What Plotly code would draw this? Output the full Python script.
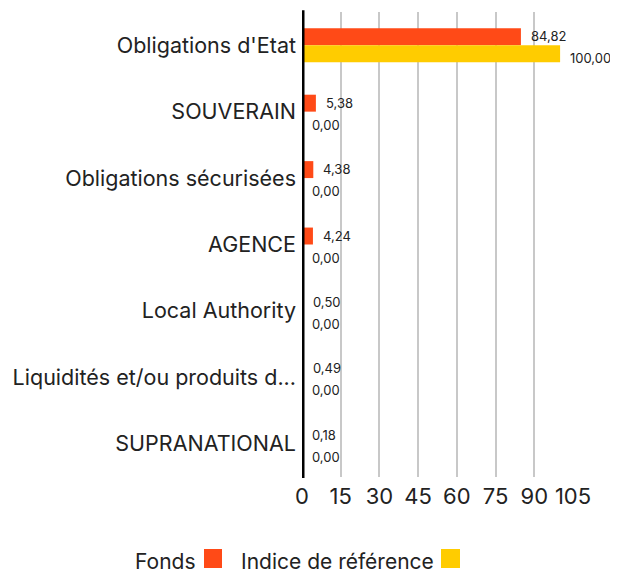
import plotly.graph_objects as go

categories = ["Obligations d'Etat", "SOUVERAIN", "Obligations sécurisées", "AGENCE",
              "Local Authority", "Liquidités et/ou produits d...", "SUPRANATIONAL"]
fonds = [84.82, 5.38, 4.38, 4.24, 0.50, 0.49, 0.18]
indice = [100.00, 0.00, 0.00, 0.00, 0.00, 0.00, 0.00]
x_ticks = [0, 15, 30, 45, 60, 75, 90, 105]
series_names = ["Fonds", "Indice de référence"]
colors = ["#FF4A17", "#FFCC00"]

FONT = "Inter, Roboto, sans-serif"
TXT = "#222222"

def fmt(v):
    return f"{v:.2f}".replace(".", ",")

fig = go.Figure()
fig.add_trace(go.Bar(y=categories, x=fonds, orientation="h", name=series_names[0],
                     marker=dict(color=colors[0], line=dict(width=0)), showlegend=False))
fig.add_trace(go.Bar(y=categories, x=indice, orientation="h", name=series_names[1],
                     marker=dict(color=colors[1], line=dict(width=0)), showlegend=False))

annotations = []
for c, v in zip(categories, fonds):
    annotations.append(dict(x=v, y=c, xref="x", yref="y", text=fmt(v), showarrow=False,
                            xanchor="left", xshift=8, yshift=9,
                            font=dict(family=FONT, size=13, color=TXT)))
for c, v in zip(categories, indice):
    annotations.append(dict(x=v, y=c, xref="x", yref="y", text=fmt(v), showarrow=False,
                            xanchor="left", xshift=8, yshift=-13,
                            font=dict(family=FONT, size=13, color=TXT)))

# page is offset by the 8px body margin; work in screen pixels
OFF = 8
L, R, T, B = 302, 573, 12, 477
W, H = float(R - L), float(B - T)
def px(xp):
    return (xp - L) / W
def py(yp):
    return (B - yp) / H

annotations.append(dict(x=px(198), y=py(561), xref="paper", yref="paper", text=series_names[0],
                        showarrow=False, xanchor="right", yanchor="middle",
                        font=dict(family=FONT, size=21, color=TXT)))
annotations.append(dict(x=px(436), y=py(561), xref="paper", yref="paper", text=series_names[1],
                        showarrow=False, xanchor="right", yanchor="middle",
                        font=dict(family=FONT, size=21, color=TXT)))
shapes = [
    dict(type="rect", xref="paper", yref="paper", x0=px(204), x1=px(222), y0=py(568), y1=py(549),
         fillcolor=colors[0], line=dict(width=0)),
    dict(type="rect", xref="paper", yref="paper", x0=px(441), x1=px(460), y0=py(568), y1=py(549),
         fillcolor=colors[1], line=dict(width=0)),
    # thick black baseline at x = 0, drawn over the bars
    dict(type="line", xref="x", yref="paper", x0=0, x1=0, y0=-0.002, y1=1.004,
         layer="above", line=dict(color="black", width=5)),
]

FW, FH = 618 - OFF, 575 - OFF
fig.update_layout(
    width=FW, height=FH,
    margin=dict(l=L - OFF, r=FW - (R - OFF), t=T - OFF, b=FH - (B - OFF), pad=0,
                autoexpand=False),
    paper_bgcolor="white", plot_bgcolor="white",
    barmode="group", bargap=0.49, bargroupgap=0,
    font=dict(family=FONT, size=18, color=TXT),
    annotations=annotations, shapes=shapes,
    xaxis=dict(range=[0, 105], tickvals=x_ticks, ticktext=[str(t) for t in x_ticks],
               showgrid=True, gridcolor="#c8c8c8", gridwidth=2, zeroline=False,
               showline=False, ticks="", ticklabelstandoff=4, automargin=False,
               tickfont=dict(family=FONT, size=22, color=TXT)),
    yaxis=dict(autorange="reversed", showgrid=False, zeroline=False,
               showline=False, ticks="", ticklabelstandoff=5, automargin=False,
               tickfont=dict(family=FONT, size=21.5, color=TXT)),
)

fig.write_html("out.html")
